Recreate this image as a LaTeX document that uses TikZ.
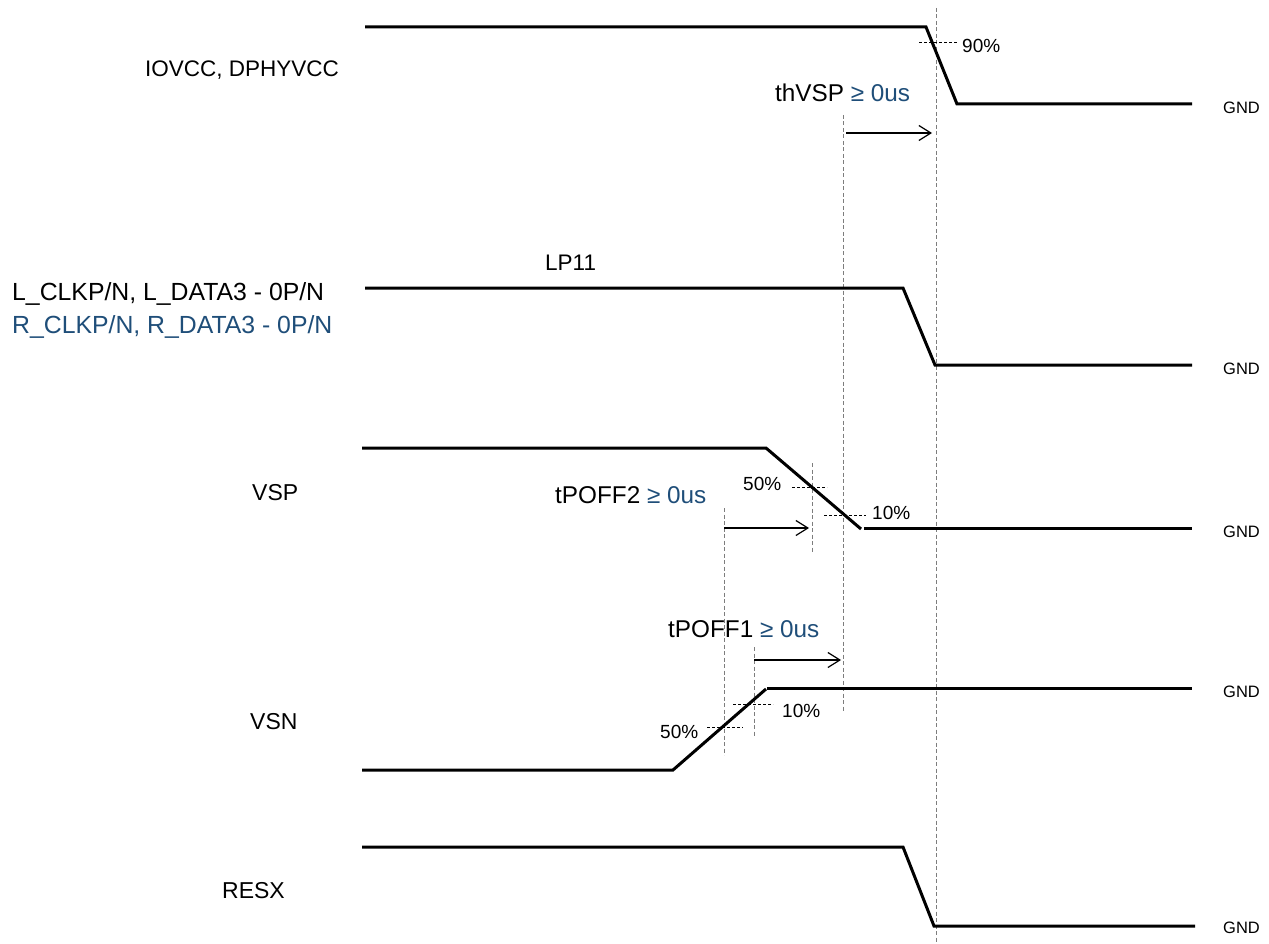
\documentclass[tikz,border=0pt]{standalone}
\usepackage{fontspec}
\setmainfont{Liberation Sans}
\usetikzlibrary{arrows.meta}
\definecolor{tblue}{RGB}{31,78,121}
\definecolor{gline}{RGB}{125,125,125}
\begin{document}
\begin{tikzpicture}[x=1pt,y=-1pt,
  sig/.style={line width=3pt, line join=miter},
  guide/.style={gline, dash pattern=on 4pt off 2.5pt, line width=1pt},
  pct/.style={black, dash pattern=on 3pt off 2pt, line width=1pt},
  tarr/.style={-{Straight Barb[length=12pt,width=15pt]}, line width=1.2pt},
  lbl/.style={font=\fontsize{22.5}{27}\selectfont, anchor=base west, inner sep=0pt},
  wlbl/.style={font=\fontsize{24.8}{28}\selectfont, anchor=base west, inner sep=0pt},
  tlbl/.style={font=\fontsize{23}{27}\selectfont, anchor=base west, inner sep=0pt},
  dlbl/.style={font=\fontsize{24.3}{28}\selectfont, anchor=base west, inner sep=0pt},
  plbl/.style={font=\fontsize{19}{22}\selectfont, anchor=base west, inner sep=0pt},
  gnd/.style={font=\fontsize{16.5}{20}\selectfont, anchor=base west, inner sep=0pt}]
\useasboundingbox (0,0) rectangle (1269,944);

% guide lines (vertical dashed)
\draw[guide] (936,8) -- (936,944);
\draw[guide] (843,115) -- (843,712);
\draw[guide] (812,463) -- (812,553);
\draw[guide] (724,508) -- (724,755);
\draw[guide] (754,647) -- (754,737);

% signals
\draw[sig] (365,27) -- (926,27) -- (957,104) -- (1192,104);
\draw[sig] (365,288) -- (903,288) -- (935,365) -- (1192,365);
\draw[sig] (362,448) -- (766,448) -- (861,529);
\draw[sig] (864,528) -- (1192,528);
\draw[sig] (362,770) -- (673,770) -- (766,689);
\draw[sig] (767,688) -- (1192,688);
\draw[sig] (362,847) -- (903,847) -- (934,926) -- (1195,926);

% percentage marks
\draw[pct] (919,43) -- (958,43);
\draw[pct] (792,487) -- (827,487);
\draw[pct] (824,515) -- (866,515);
\draw[pct] (707,727) -- (743,727);
\draw[pct] (733,704) -- (773,704);

% timing arrows
\coordinate (a1s) at (846,133); \coordinate (a1e) at (932,133);
\coordinate (a2s) at (724,528); \coordinate (a2e) at (809,528);
\coordinate (a3s) at (754,660); \coordinate (a3e) at (841,660);
\draw[tarr] (a1s) -- (a1e);
\draw[tarr] (a2s) -- (a2e);
\draw[tarr] (a3s) -- (a3e);

% signal labels
\node[lbl] (n1) at (145,77) {IOVCC, DPHYVCC};
\node[wlbl] (n2) at (12,300) {L\_CLKP/N, L\_DATA3 - 0P/N};
\node[wlbl, text=tblue] (n3) at (12,333) {R\_CLKP/N, R\_DATA3 - 0P/N};
\node[lbl] (n4) at (545,270) {LP11};
\node[tlbl] (n5) at (252,500) {VSP};
\node[tlbl] (n6) at (250,729) {VSN};
\node[tlbl] (n7) at (222,898) {RESX};

% timing labels
\node[dlbl] (t1) at (775,102) {thVSP \textcolor{tblue}{≥ 0us}};
\node[dlbl] (t2) at (555,503) {tPOFF2 \textcolor{tblue}{≥ 0us}};
\node[dlbl] (t3) at (668,637) {tPOFF1 \textcolor{tblue}{≥ 0us}};

% percentage labels
\node[plbl] (p1) at (962,53) {90\%};
\node[plbl] (p2) at (743,490) {50\%};
\node[plbl] (p3) at (872,519) {10\%};
\node[plbl] (p4) at (660,738) {50\%};
\node[plbl] (p5) at (782,717) {10\%};

% GND labels
\node[gnd] (g1) at (1223,114) {GND};
\node[gnd] (g2) at (1223,374) {GND};
\node[gnd] (g3) at (1223,537) {GND};
\node[gnd] (g4) at (1223,697) {GND};
\node[gnd] (g5) at (1223,933) {GND};
\end{tikzpicture}
\end{document}
